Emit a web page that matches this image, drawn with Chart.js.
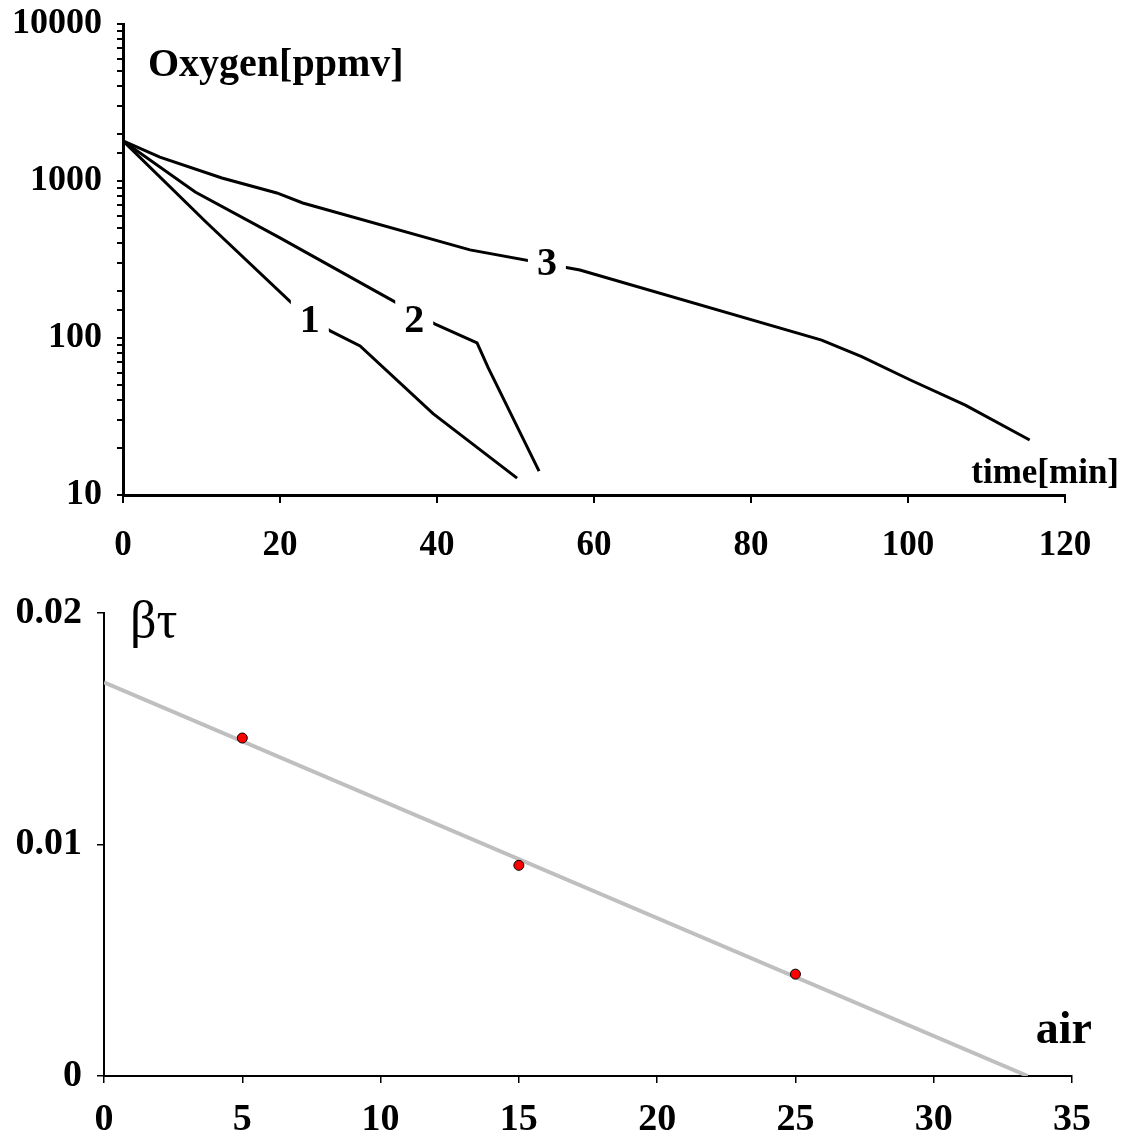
<!DOCTYPE html>
<html>
<head>
<meta charset="utf-8">
<script src="https://cdn.jsdelivr.net/npm/chart.js@4"></script>
<style>
  body { margin: 0; background: #fff; }
  #wrap { position: relative; width: 1127px; height: 1144px; }
  #top { position: absolute; left: 0; top: 0; }
  #bottom { position: absolute; left: 0; top: 580px; }
</style>
</head>
<body>
<div id="wrap">
  <canvas id="top" width="1127" height="580"></canvas>
  <canvas id="bottom" width="1127" height="564"></canvas>
</div>
<script>
// oxygen decay curves (time in min, O2 in ppmv)
var time1 = [0, 10.7, 21.5, 26.4, 30.2, 39.5, 50.2];
var oxy1  = [1800, 540, 167, 111, 89, 33, 12.8];
var time2 = [0, 9.2, 20, 32.4, 39.7, 45.1, 46.5, 53];
var oxy2  = [1800, 851, 434, 196, 123, 93, 65, 14.2];
var time3 = [0, 4.7, 12.6, 19.6, 22.9, 44.2, 58.2, 89, 94.1, 100.3, 107.3, 115.5];
var oxy3  = [1800, 1420, 1045, 839, 724, 364, 271, 97, 76, 54, 37.4, 22.4];
var curveNames = ["1", "2", "3"];
var curveLabelAt = [[23.8, 130], [37.1, 130], [54.0, 300]];

// beta*tau against air
var airPts  = [5, 15, 25];
var betaPts = [0.0146, 0.0091, 0.0044];
var fitAir  = [0, 33.4];
var fitBeta = [0.017, 0];

var serif = '"Liberation Serif", "Times New Roman", serif';

function pairs(xs, ys) {
  return xs.map(function(x, i){ return {x: x, y: ys[i]}; });
}

function curve(xs, ys) {
  return {
    data: pairs(xs, ys),
    showLine: true,
    borderColor: "#000",
    borderWidth: 3,
    pointRadius: 0,
    tension: 0,
    fill: false
  };
}

// text on top of the plot: axis names and curve numbers
var topText = {
  id: "topText",
  afterDatasetsDraw: function(chart){
    var ctx = chart.ctx, a = chart.chartArea;
    var sx = chart.scales.x, sy = chart.scales.y;
    ctx.save();
    ctx.fillStyle = "#000";
    ctx.font = "bold 40px " + serif;
    ctx.textAlign = "left";
    ctx.textBaseline = "alphabetic";
    ctx.fillText("Oxygen[ppmv]", a.left + 25, a.top + 52);
    ctx.font = "bold 35px " + serif;
    ctx.textAlign = "right";
    ctx.fillText("time[min]", a.right + 54, a.bottom - 12);

    ctx.font = "bold 40px " + serif;
    ctx.textAlign = "center";
    ctx.textBaseline = "middle";
    for (var i = 0; i < curveNames.length; i++) {
      var px = sx.getPixelForValue(curveLabelAt[i][0]);
      var py = sy.getPixelForValue(curveLabelAt[i][1]);
      ctx.fillStyle = "#fff";
      ctx.fillRect(px - 19, py - 22, 38, 44);
      ctx.fillStyle = "#000";
      ctx.fillText(curveNames[i], px, py + 2);
    }
    ctx.restore();
  }
};

var bottomText = {
  id: "bottomText",
  afterDatasetsDraw: function(chart){
    var ctx = chart.ctx, a = chart.chartArea;
    ctx.save();
    ctx.fillStyle = "#000";
    ctx.textBaseline = "alphabetic";
    ctx.textAlign = "left";
    ctx.font = "52px " + serif;
    ctx.fillText("\u03b2\u03c4", a.left + 26, a.top + 24);
    ctx.font = "bold 46px " + serif;
    ctx.textAlign = "right";
    ctx.fillText("air", a.right + 20, a.bottom - 33);
    ctx.restore();
  }
};

function axisGrid(w, len) {
  return {
    display: true,
    drawOnChartArea: false,
    drawTicks: true,
    tickLength: len,
    color: "#000",
    lineWidth: w
  };
}

// keep the plot box where the layout padding puts it
function fixBox(w, h) {
  return function(s){
    if (w) s.width = w;
    if (h) s.height = h;
    s.paddingTop = 0; s.paddingBottom = 0;
    s.paddingLeft = 0; s.paddingRight = 0;
  };
}

new Chart(document.getElementById("top"), {
  type: "scatter",
  data: {
    datasets: [curve(time1, oxy1), curve(time2, oxy2), curve(time3, oxy3)]
  },
  plugins: [topText],
  options: {
    responsive: false,
    animation: false,
    layout: { padding: { top: 24, right: 62, left: 0, bottom: 0 } },
    plugins: { legend: { display: false }, tooltip: { enabled: false } },
    scales: {
      x: {
        type: "linear",
        min: 0, max: 120,
        grid: axisGrid(2, 8),
        border: { color: "#000", width: 3 },
        ticks: {
          stepSize: 20,
          color: "#000",
          padding: 22,
          maxRotation: 0,
          font: { family: serif, size: 35, weight: "bold" }
        },
        afterFit: fixBox(0, 85)
      },
      y: {
        type: "logarithmic",
        min: 10, max: 10000,
        grid: axisGrid(2, 6),
        border: { color: "#000", width: 3 },
        ticks: {
          autoSkip: false,
          color: "#000",
          padding: 15,
          font: { family: serif, size: 36, weight: "bold" },
          callback: function(v){
            var l = Math.log10(v);
            return Math.abs(l - Math.round(l)) < 1e-9 ? String(v) : "";
          }
        },
        afterFit: fixBox(123, 0)
      }
    }
  }
});

new Chart(document.getElementById("bottom"), {
  type: "scatter",
  data: {
    datasets: [{
      data: pairs(airPts, betaPts),
      pointRadius: 5,
      pointBackgroundColor: "#ff0000",
      pointBorderColor: "#000",
      pointBorderWidth: 1,
      order: 0
    }, {
      data: pairs(fitAir, fitBeta),
      showLine: true,
      borderColor: "#bfbfbf",
      borderWidth: 4,
      pointRadius: 0,
      tension: 0,
      order: 1
    }]
  },
  plugins: [bottomText],
  options: {
    responsive: false,
    animation: false,
    layout: { padding: { top: 33, right: 55, left: 0, bottom: 0 } },
    plugins: { legend: { display: false }, tooltip: { enabled: false } },
    scales: {
      x: {
        type: "linear",
        min: 0, max: 35,
        grid: axisGrid(1.5, 7),
        border: { color: "#000", width: 2 },
        ticks: {
          stepSize: 5,
          color: "#000",
          padding: 14,
          maxRotation: 0,
          font: { family: serif, size: 38, weight: "bold" }
        },
        afterFit: fixBox(0, 68)
      },
      y: {
        min: 0, max: 0.02,
        grid: axisGrid(1.5, 7),
        border: { color: "#000", width: 2 },
        ticks: {
          stepSize: 0.01,
          color: "#000",
          padding: 15,
          font: { family: serif, size: 38, weight: "bold" }
        },
        afterFit: fixBox(104, 0)
      }
    }
  }
});
</script>
</body>
</html>
